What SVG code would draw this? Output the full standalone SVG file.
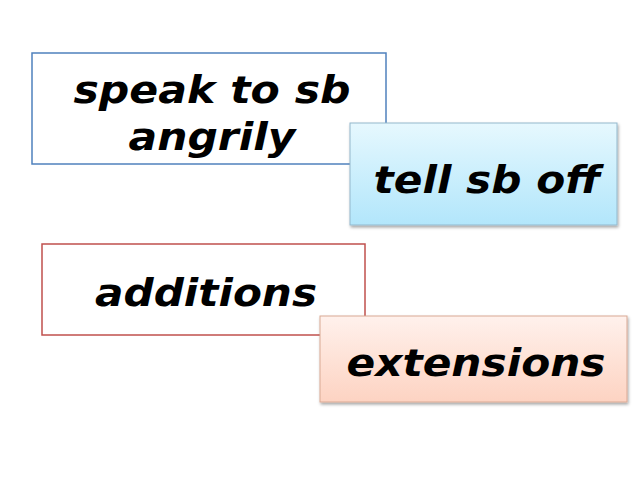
<svg xmlns="http://www.w3.org/2000/svg" width="640" height="480" viewBox="0 0 640 480">
<style>
text{font-family:"DejaVu Sans",Verdana,sans-serif;font-weight:bold;font-style:italic;font-size:37px;fill:#000;text-anchor:middle}
</style>
<defs>
<linearGradient id="gb" x1="0" y1="0" x2="0" y2="1"><stop offset="0" stop-color="#e6f8fe"/><stop offset="1" stop-color="#b2e6fb"/></linearGradient>
<linearGradient id="gp" x1="0" y1="0" x2="0" y2="1"><stop offset="0" stop-color="#fff1ec"/><stop offset="1" stop-color="#fdd3c2"/></linearGradient>
<filter id="sh" x="-5%" y="-5%" width="115%" height="120%"><feDropShadow dx="1" dy="2" stdDeviation="1.5" flood-opacity="0.35"/></filter>
</defs>
<rect width="640" height="480" fill="#fff"/>
<g id="n1"><rect x="32" y="53" width="354" height="111" fill="#fff" stroke="#4f81bd" stroke-width="1.5"/>
<text x="212" y="103" textLength="277" lengthAdjust="spacingAndGlyphs">speak to sb</text><text x="212" y="150" textLength="167" lengthAdjust="spacingAndGlyphs">angrily</text></g>
<g id="n2"><rect x="350" y="123" width="267" height="102" fill="url(#gb)" stroke="#93b8cc" stroke-width="1" filter="url(#sh)"/>
<text x="487" y="193" textLength="227" lengthAdjust="spacingAndGlyphs">tell sb off</text></g>
<g id="n3"><rect x="42" y="244" width="323" height="91" fill="#fff" stroke="#c0504d" stroke-width="1.5"/>
<text x="206" y="306" textLength="222" lengthAdjust="spacingAndGlyphs">additions</text></g>
<g id="n4"><rect x="320" y="316" width="307" height="86" fill="url(#gp)" stroke="#d9a994" stroke-width="1" filter="url(#sh)"/>
<text x="476" y="376" textLength="259" lengthAdjust="spacingAndGlyphs">extensions</text></g>
<g id="connectors"/>
</svg>
